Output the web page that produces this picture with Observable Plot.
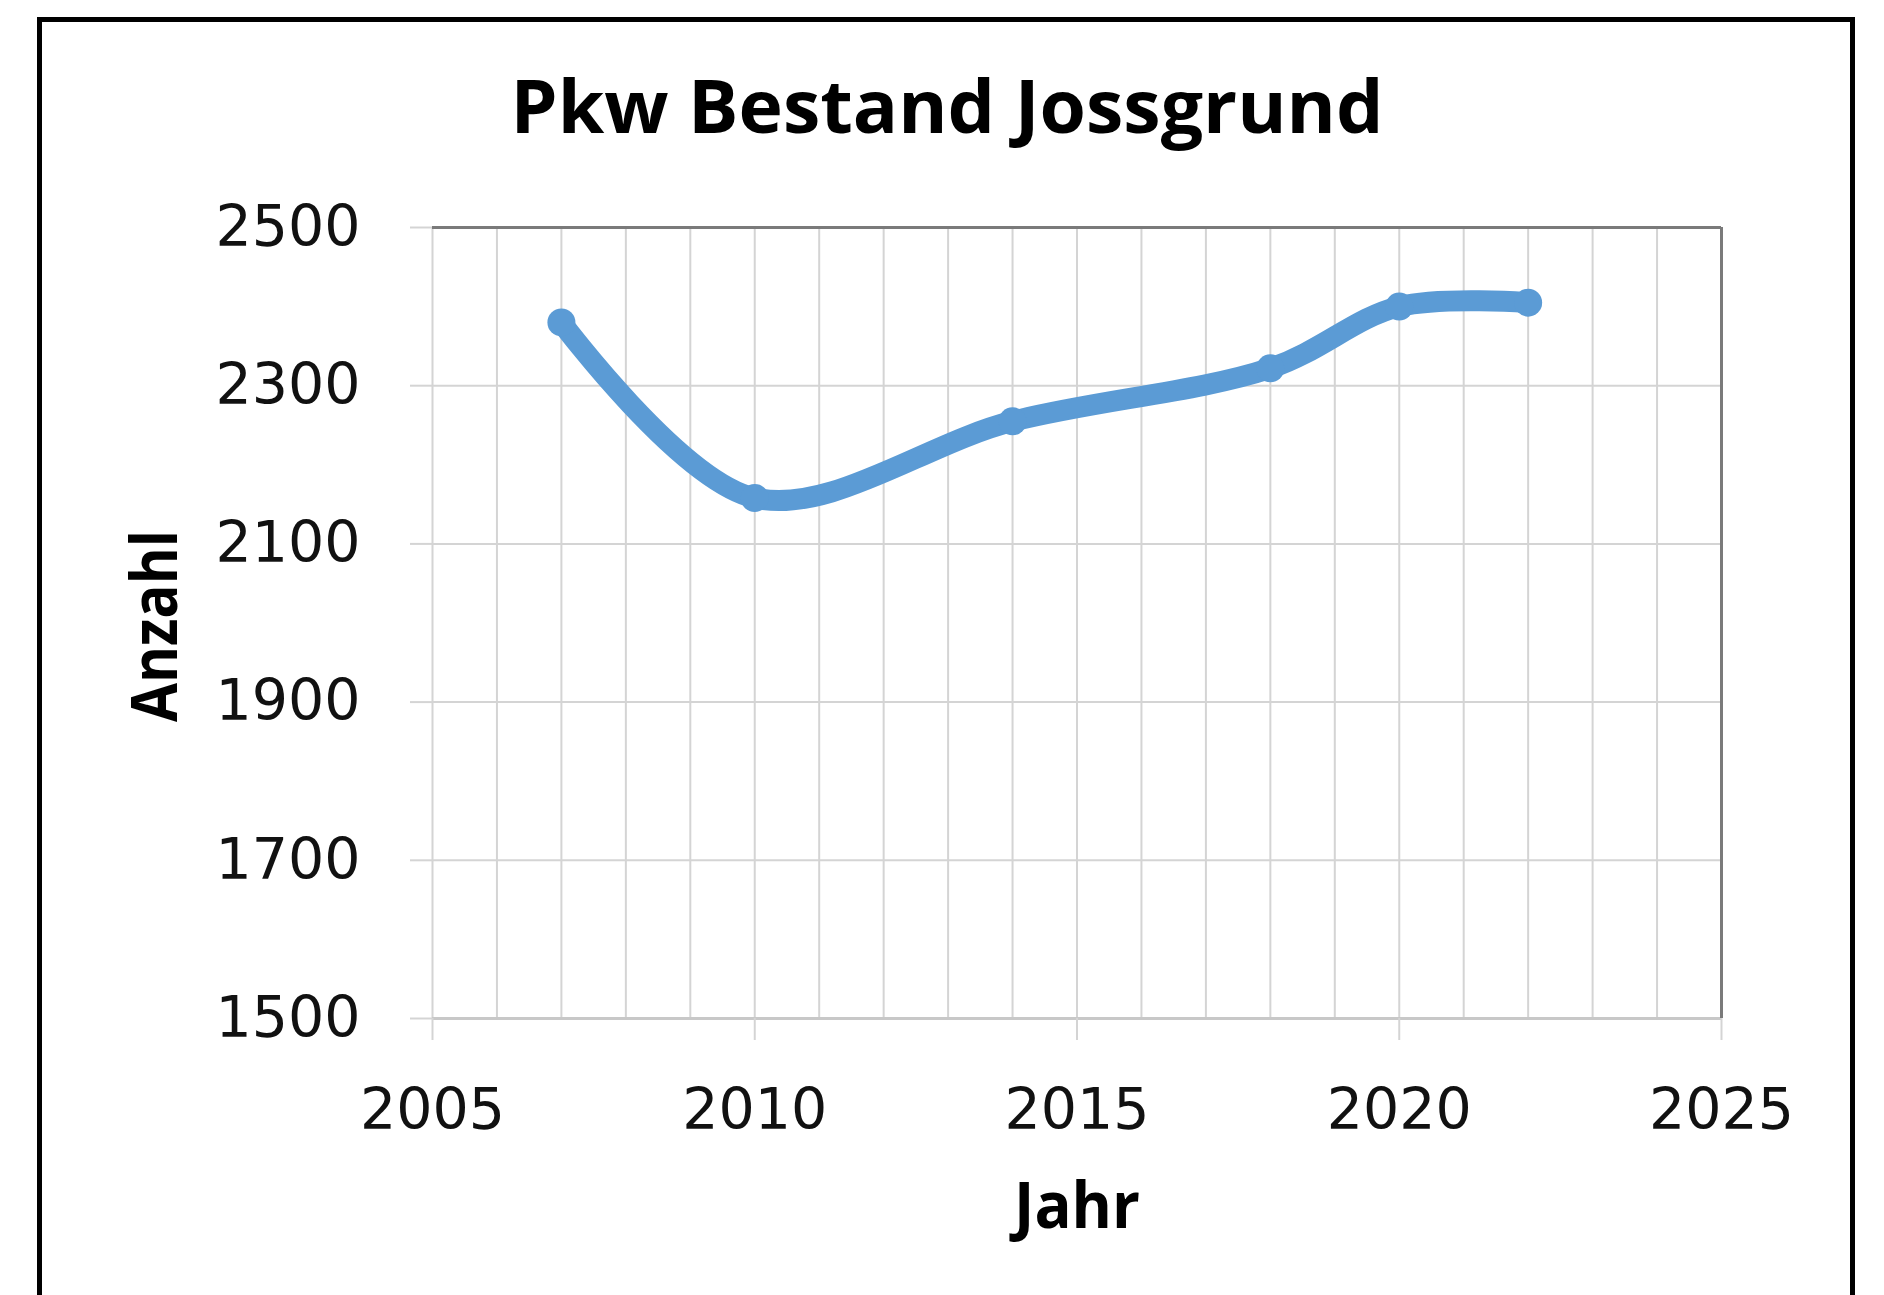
<!DOCTYPE html>
<html>
<head>
<meta charset="utf-8">
<script src="https://cdn.jsdelivr.net/npm/d3@7"></script>
<script src="https://cdn.jsdelivr.net/npm/@observablehq/plot@0.6"></script>
<style>
  html, body { margin: 0; padding: 0; background: #fff; }
  #wrap { position: relative; width: 1884px; height: 1295px; overflow: hidden; background: #fff; }
  #chart { position: absolute; left: 0; top: 0; }
  #frame { position: absolute; left: 37px; top: 17px; width: 1818px; height: 1400px; border: 5px solid #000; box-sizing: border-box; pointer-events: none; z-index: 2; }
  #title { position: absolute; left: 947px; top: 68px; white-space: nowrap; font-family: "Open Sans", sans-serif; font-weight: 700; font-size: 74px; line-height: 1; color: #000; transform-origin: 0 0; }
</style>
</head>
<body>
<div id="wrap">
  <div id="chart"></div>
  <div id="title">Pkw Bestand Jossgrund</div>
  <div id="frame"></div>
</div>
<script>
// ---- data ----
const years  = [2007, 2010, 2014, 2018, 2020, 2022];
const counts = [2380, 2158, 2255, 2322, 2400, 2405];
const xTicks = [2005, 2010, 2015, 2020, 2025];
const yTicks = [1500, 1700, 1900, 2100, 2300, 2500];
const xDomain = [2005, 2025];
const yDomain = [1500, 2500];
const xLabel = "Jahr";
const yLabel = "Anzahl";

const data = years.map((y, i) => ({year: y, count: counts[i]}));
const xGrid = d3.range(xDomain[0], xDomain[1] + 1, 1);

const blue = "#5B9BD5";
const grid = "#d4d4d4";

const chart = Plot.plot({
  width: 1884,
  height: 1295,
  marginLeft: 432,
  marginRight: 163,
  marginTop: 227,
  marginBottom: 277,
  style: {background: "transparent", fontFamily: "DejaVu Sans", fontSize: "57px", color: "#000"},
  x: {domain: xDomain},
  y: {domain: yDomain},
  marks: [
    Plot.gridX(xGrid, {stroke: grid, strokeOpacity: 1, strokeWidth: 2}),
    Plot.gridY(yTicks, {stroke: grid, strokeOpacity: 1, strokeWidth: 2}),
    Plot.ruleY([yDomain[0]], {stroke: "#c8c8c8", strokeWidth: 3}),
    Plot.ruleY([yDomain[1]], {stroke: "#7a7a7a", strokeWidth: 3}),
    Plot.ruleX([xDomain[1]], {stroke: "#7a7a7a", strokeWidth: 3}),
    Plot.axisX({ticks: xTicks, tickSize: 22, tickPadding: 48, stroke: grid, strokeWidth: 2, fill: "#111", fontSize: 57, fontFamily: "DejaVu Sans", tickFormat: d => String(d), label: null}),
    Plot.axisY({ticks: yTicks, tickSize: 22, tickPadding: 50, stroke: grid, strokeWidth: 2, fill: "#111", fontSize: 57, fontFamily: "DejaVu Sans", tickFormat: d => String(d), label: null}),
    Plot.line(data, {x: "year", y: "count", stroke: blue, strokeWidth: 21, curve: "catmull-rom", strokeLinecap: "round", strokeLinejoin: "round"}),
    Plot.dot(data, {x: "year", y: "count", r: 14, fill: blue, stroke: "none"}),
    Plot.text([xLabel], {frameAnchor: "bottom", text: d => d, dy: 189, lineAnchor: "middle", textAnchor: "middle", fontSize: 64, fontFamily: "Open Sans", fontWeight: "bold", fill: "#000"}),
    Plot.text([yLabel], {frameAnchor: "left", text: d => d, dx: -276, dy: 3, rotate: -90, lineAnchor: "middle", textAnchor: "middle", fontSize: 64, fontFamily: "Open Sans", fontWeight: "bold", fill: "#000"})
  ]
});
document.getElementById("chart").appendChild(chart);

// narrow the bold labels to the Calibri-like widths of the original
d3.select(chart).selectAll("text").each(function () {
  const t = this.textContent;
  if (t === xLabel) { this.setAttribute("textLength", 126); this.setAttribute("lengthAdjust", "spacingAndGlyphs"); }
  if (t === yLabel) { this.setAttribute("textLength", 192); this.setAttribute("lengthAdjust", "spacingAndGlyphs"); }
});

const title = document.getElementById("title");
const w = title.getBoundingClientRect().width;
const k = 873 / w;
title.style.transform = `scaleX(${k}) translateX(-50%)`;
</script>
</body>
</html>
